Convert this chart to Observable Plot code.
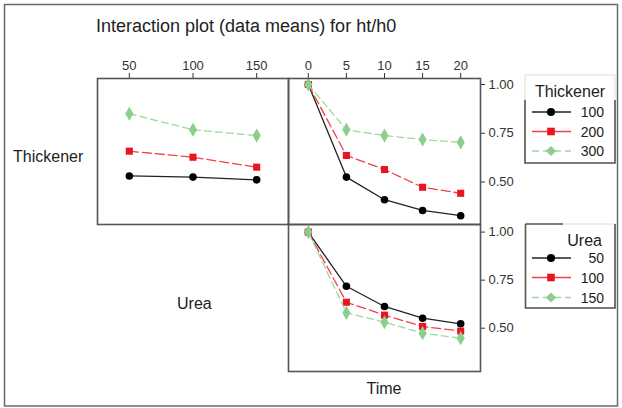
<!DOCTYPE html>
<html>
<head>
<meta charset="utf-8">
<script src="https://cdn.jsdelivr.net/npm/d3@7"></script>
<script src="https://cdn.jsdelivr.net/npm/@observablehq/plot@0.6"></script>
<style>
  html, body { margin: 0; padding: 0; background: #fff; }
  #wrap { position: relative; width: 622px; height: 408px; overflow: hidden; font-family: "Liberation Sans", Arial, sans-serif; }
  .panel { position: absolute; }
  #overlay { position: absolute; left: 0; top: 0; pointer-events: none; }
</style>
</head>
<body>
<div id="wrap"></div>
<script>
// ---- data ----
const ureaLevels = [50, 100, 150];
const timeLevels = [0, 5, 10, 15, 20];
const thickenerLevels = [100, 200, 300];

// Thickener x Urea means
const thickUrea100 = [0.531, 0.525, 0.511];
const thickUrea200 = [0.658, 0.627, 0.576];
const thickUrea300 = [0.850, 0.768, 0.738];

// Thickener x Time means
const thickTime100 = [1.000, 0.525, 0.409, 0.354, 0.327];
const thickTime200 = [1.000, 0.636, 0.564, 0.473, 0.442];
const thickTime300 = [1.000, 0.768, 0.738, 0.718, 0.703];

// Urea x Time means
const ureaTime50  = [1.000, 0.718, 0.613, 0.552, 0.523];
const ureaTime100 = [1.000, 0.635, 0.568, 0.509, 0.485];
const ureaTime150 = [1.000, 0.580, 0.531, 0.474, 0.448];

const yTicks = [0.5, 0.75, 1.0];
const titleText = "Interaction plot (data means) for ht/h0";

// ---- styles per level index ----
const styles = [
  {line: "#222", dash: null, legendDash: null, fill: "#000", symbol: "circle", r: 3.8},
  {line: "#f0404a", dash: "9,4", legendDash: null, fill: "#e8141e", symbol: "square", r: 4.0},
  {line: "#9fd89f", dash: "7,4", legendDash: "7,4", fill: "#8ccf8c", symbol: "diamond", r: 4.3}
];

function seriesTable(xs, ys, level) { return xs.map((x, i) => ({x, y: ys[i], level})); }

function seriesMarks(groups) {
  const marks = [];
  // black first, green last (on top)
  for (let k = 0; k < groups.length; k++) {
    const s = styles[k];
    marks.push(Plot.line(groups[k], {x: "x", y: "y", stroke: s.line, strokeWidth: 1.3, strokeDasharray: s.dash}));
    marks.push(Plot.dot(groups[k], {x: "x", y: "y", symbol: s.symbol, r: s.r, fill: s.fill, stroke: "none"}));
  }
  return marks;
}

const baseStyle = {fontFamily: "'Liberation Sans', Arial, sans-serif", fontSize: "13px", color: "#333", background: "transparent", overflow: "visible"};
const frame = Plot.frame({stroke: "#555", strokeWidth: 1.6});

const wrap = document.getElementById("wrap");
function place(el, left, top) {
  el.classList.add("panel");
  el.style.left = left + "px";
  el.style.top = top + "px";
  wrap.appendChild(el);
}

// Panel A: Thickener x Urea (frame x 97..288, y 78..224)
const pA = Plot.plot({
  width: 211, height: 196,
  marginTop: 40, marginLeft: 10, marginRight: 10, marginBottom: 10,
  style: baseStyle,
  x: {domain: [25, 175], axis: "top", ticks: ureaLevels, tickSize: 6, tickPadding: 3, label: null},
  y: {domain: [0.282, 1.0308], axis: null},
  marks: [
    ...seriesMarks([
      seriesTable(ureaLevels, thickUrea100, "100"),
      seriesTable(ureaLevels, thickUrea200, "200"),
      seriesTable(ureaLevels, thickUrea300, "300")
    ]),
    frame
  ]
});
place(pA, 87, 38);

// Panel B: Thickener x Time (frame x 288..480, y 78..224)
const pB = Plot.plot({
  width: 252, height: 196,
  marginTop: 40, marginLeft: 10, marginRight: 50, marginBottom: 10,
  style: baseStyle,
  x: {domain: [-2.6, 22.6], axis: "top", ticks: timeLevels, tickSize: 6, tickPadding: 3, label: null},
  y: {domain: [0.282, 1.0308], axis: "right", ticks: yTicks, tickFormat: ".2f", tickSize: 4, tickPadding: 4, label: null},
  marks: [
    ...seriesMarks([
      seriesTable(timeLevels, thickTime100, "100"),
      seriesTable(timeLevels, thickTime200, "200"),
      seriesTable(timeLevels, thickTime300, "300")
    ]),
    frame
  ]
});
place(pB, 278, 38);

// Panel C: Urea x Time (frame x 288..480, y 224..371)
const pC = Plot.plot({
  width: 252, height: 187,
  marginTop: 10, marginLeft: 10, marginRight: 50, marginBottom: 30,
  style: baseStyle,
  x: {domain: [-2.6, 22.6], axis: null},
  y: {domain: [0.2747, 1.0395], axis: "right", ticks: yTicks, tickFormat: ".2f", tickSize: 4, tickPadding: 4, label: null},
  marks: [
    ...seriesMarks([
      seriesTable(timeLevels, ureaTime50, "50"),
      seriesTable(timeLevels, ureaTime100, "100"),
      seriesTable(timeLevels, ureaTime150, "150")
    ]),
    frame
  ]
});
place(pC, 278, 214);

// ---- overlay: outer frame, titles, legends ----
const svg = d3.select(wrap).append("svg").attr("id", "overlay")
  .attr("width", 622).attr("height", 408)
  .style("font-family", "'Liberation Sans', Arial, sans-serif");

svg.append("rect").attr("x", 4.5).attr("y", 4.5).attr("width", 613).attr("height", 401.5)
  .attr("fill", "none").attr("stroke", "#6a6a6a").attr("stroke-width", 1.5);

svg.append("text").attr("x", 96).attr("y", 32).attr("font-size", 18).attr("fill", "#222").text(titleText);
svg.append("text").attr("x", 13).attr("y", 162).attr("font-size", 16).attr("fill", "#222").text("Thickener");
svg.append("text").attr("x", 177).attr("y", 309).attr("font-size", 16).attr("fill", "#222").text("Urea");
svg.append("text").attr("x", 384).attr("y", 394).attr("font-size", 16).attr("fill", "#222").attr("text-anchor", "middle").text("Time");

function legend(title, levels, box, titleX, titleAnchor, titleY, rowYs) {
  const g = svg.append("g");
  g.append("rect").attr("x", box.x0).attr("y", box.y0).attr("width", box.x1 - box.x0).attr("height", box.y1 - box.y0)
    .attr("fill", "none").attr("stroke", "#ddd").attr("stroke-width", 1);
  const dark = "#555";
  g.append("path").attr("d", `M${box.x0},${box.darkTop}V${box.y1}H${box.x1}V${box.darkTop}`)
    .attr("fill", "none").attr("stroke", dark).attr("stroke-width", 1.6);
  if (box.topTo) {
    g.append("path").attr("d", `M${box.x0},${box.y0}H${box.topTo}`).attr("stroke", dark).attr("stroke-width", 1.6);
  }
  g.append("text").attr("x", titleX).attr("y", titleY).attr("font-size", 16).attr("fill", "#222")
    .attr("text-anchor", titleAnchor).text(title);
  levels.forEach((lv, i) => {
    const s = styles[i];
    const y = rowYs[i];
    g.append("line").attr("x1", 532).attr("x2", 571).attr("y1", y).attr("y2", y)
      .attr("stroke", s.line).attr("stroke-width", 1.3).attr("stroke-dasharray", s.legendDash);
    const sym = s.symbol === "circle" ? d3.symbolCircle : s.symbol === "square" ? d3.symbolSquare : d3.symbolDiamond2;
    g.append("path").attr("transform", `translate(551,${y})`)
      .attr("d", d3.symbol(sym, Math.PI * s.r * s.r * 1.15)()).attr("fill", s.fill);
    g.append("text").attr("x", 604).attr("y", y + 5).attr("font-size", 14).attr("fill", "#222")
      .attr("text-anchor", "end").text(lv);
  });
}

legend("Thickener", thickenerLevels, {x0: 525, y0: 75, x1: 615, y1: 163, darkTop: 100},
  570, "middle", 97, [112, 131.5, 151]);
legend("Urea", ureaLevels, {x0: 525.5, y0: 224, x1: 615, y1: 308, darkTop: 224, topTo: 563},
  602, "end", 246, [258, 277.5, 297.5]);
</script>
</body>
</html>
